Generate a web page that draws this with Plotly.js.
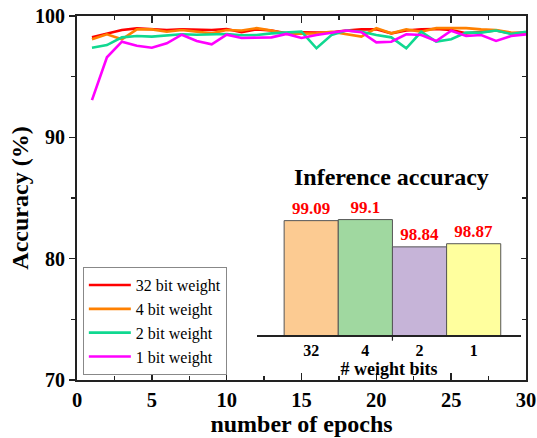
<!DOCTYPE html>
<html><head><meta charset="utf-8">
<script src="https://cdn.plot.ly/plotly-3.0.1.min.js"></script>
<style>html,body{margin:0;padding:0;background:#fff}#chart{width:537px;height:438px}</style>
</head><body><div id="chart"></div>
<script>
const epochs = Array.from({length:30},(_,i)=>i+1);
const acc32 = [98.24,98.57,98.85,98.98,98.9,98.85,98.9,98.85,98.85,98.93,98.66,98.9,98.8,98.57,98.65,98.63,98.66,98.8,98.9,98.9,98.57,98.8,98.9,98.93,98.85,98.57,98.7,98.8,98.57,98.63];
const acc4 = [98.08,98.49,98.08,98.9,98.9,98.7,98.85,98.7,98.57,98.85,98.8,99.0,98.8,98.52,98.57,98.57,98.7,98.52,98.3,99.0,98.57,98.9,98.7,99.0,99.0,99.0,98.9,98.85,98.63,98.57];
const acc2 = [97.39,97.6,98.24,98.35,98.3,98.38,98.49,98.46,98.49,98.52,98.41,98.43,98.57,98.65,98.71,97.34,98.43,98.8,98.7,98.43,98.24,97.34,98.7,97.89,98.08,98.63,98.63,98.8,98.52,98.7];
const acc1 = [93.07,96.6,97.88,97.55,97.39,97.75,98.46,97.94,97.66,98.46,98.19,98.19,98.24,98.52,98.19,98.43,98.63,98.8,98.66,97.83,97.88,98.49,98.43,97.94,98.79,98.35,98.43,97.94,98.35,98.49];
const seriesNames = ['32 bit weight','4 bit weight','2 bit weight','1 bit weight'];
const seriesColors = ['#ff0000','#ff8000','#10d890','#ff00ff'];

const bitLabels = ['32','4','2','1'];
const inferAcc = [99.09,99.1,98.84,98.87];
const barColors = ['#fccb92','#a0d8a0','#c6b4d8','#ffff9e'];

const F = 'Liberation Serif, Times New Roman, serif';
const traces = [acc32,acc4,acc2,acc1].map((a,i)=>({
  x: epochs, y: a, type:'scatter', mode:'lines', name: seriesNames[i],
  line:{color: seriesColors[i], width:2.6}, xaxis:'x', yaxis:'y'
}));
traces.push({
  x: [0,1,2,3], y: inferAcc, type:'bar', xaxis:'x2', yaxis:'y2',
  showlegend:false, width: 1,
  marker:{color: barColors, line:{color:'#555555', width:1}},
  text: inferAcc.map(String), textposition:'outside', cliponaxis:false,
  textfont:{family:F, size:17, color:'#ff0000', weight:'bold'}
});
traces.push({x:[0], y:[70], xaxis:'x', yaxis:'y3', type:'scatter', mode:'markers',
  marker:{opacity:0}, showlegend:false, hoverinfo:'skip'});

const layout = {
  width:537, height:438,
  margin:{l:77, r:11, t:16, b:58},
  paper_bgcolor:'#ffffff', plot_bgcolor:'#ffffff',
  font:{family:F, color:'#000'},
  showlegend:true,
  legend:{x:0.013, y:0.31, xanchor:'left', yanchor:'top', bgcolor:'#ffffff',
    bordercolor:'#888888', borderwidth:1, font:{family:F, size:16},
    tracegroupgap:0, itemwidth:42},
  xaxis:{range:[0,30], domain:[0,1], tickvals:[0,5,10,15,20,25,30],
    ticks:'inside', ticklen:7, tickwidth:1.5, tickcolor:'#222',
    minor:{dtick:2.5, tick0:0, ticks:'inside', ticklen:4, tickwidth:1.2, tickcolor:'#222'},
    showline:true, linecolor:'#222', linewidth:2, mirror:'ticks',
    showgrid:false, zeroline:false,
    tickfont:{family:F, size:20.5, weight:'bold'},
    title:{text:'number of epochs', font:{family:F, size:24, weight:'bold'}, standoff:0}},
  yaxis:{range:[70,100], domain:[0,1], tickvals:[70,80,90,100],
    ticks:'outside', ticklen:6, tickwidth:1.5, tickcolor:'#222',
    minor:{dtick:5, tick0:70, ticks:'outside', ticklen:4, tickwidth:1.2, tickcolor:'#222'},
    showline:true, linecolor:'#222', linewidth:2, mirror:true,
    showgrid:false, zeroline:false,
    tickfont:{family:F, size:20, weight:'bold'},
    title:{text:'Accuracy (%)', font:{family:F, size:24, weight:'bold'}, standoff:0}},
  yaxis3:{range:[70,100], overlaying:'y', side:'right', tickvals:[70,80,90,100],
    showticklabels:false, ticks:'inside', ticklen:6, tickwidth:1.5, tickcolor:'#222',
    minor:{dtick:5, tick0:70, ticks:'inside', ticklen:4, tickwidth:1.2, tickcolor:'#222'},
    showline:false, showgrid:false, zeroline:false},
  xaxis2:{domain:[0.401,0.989], anchor:'y2', range:[-1.0,3.875],
    tickvals:[0,1,2,3], ticktext:bitLabels, ticks:'', showline:true,
    linecolor:'#222', linewidth:1.5, showgrid:false, zeroline:false,
    tickfont:{family:F, size:16, weight:'bold'},
    title:{text:'# weight bits', font:{family:F, size:18, weight:'bold'}, standoff:0}},
  yaxis2:{domain:[0.1236,0.556], anchor:'x2', range:[98,99.5], visible:false},
  bargap:0,
  shapes:[{type:'line', xref:'x2', yref:'paper', x0:1.5, x1:1.5, y0:0.1236, y1:0.108,
    line:{color:'#222', width:1.2}}],
  annotations:[{text:'Inference accuracy', xref:'paper', yref:'paper', x:0.7, y:0.558,
    xanchor:'center', yanchor:'middle', showarrow:false,
    font:{family:F, size:24, weight:'bold', color:'#000'}}]
};
Plotly.newPlot('chart', traces, layout, {staticPlot:true});
</script></body></html>
